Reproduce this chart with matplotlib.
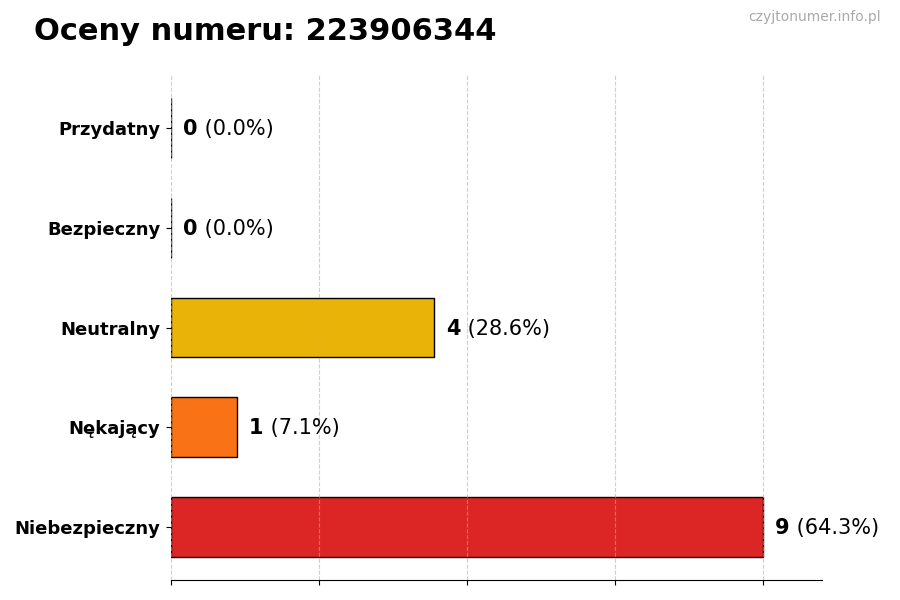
import numpy as np
import matplotlib
matplotlib.use("Agg")
import matplotlib.pyplot as plt

# data (bottom to top in chart order)
categories = ["Niebezpieczny", "Nękający", "Neutralny", "Bezpieczny", "Przydatny"]
counts = [9, 1, 4, 0, 0]
colors = ["#dc2626", "#f97316", "#eab308", "#16a34a", "#2563eb"]
number = "223906344"

total = sum(counts)
max_val = max(counts)

fig, ax = plt.subplots(figsize=(9, 6), dpi=100)
fig.subplots_adjust(left=0.19, right=0.9133, top=0.875, bottom=0.0333)

y = np.arange(len(categories))
ax.barh(y, counts, height=0.6, color=colors, edgecolor="black", linewidth=1)

ax.set_yticks(y)
ax.set_yticklabels(categories, fontsize=13, fontweight="bold")
ax.tick_params(axis="y", pad=4)
ax.set_xlim(0, max_val * 1.1)
ax.set_xticks(np.linspace(0, max_val, 5))
ax.set_xticklabels([])

ax.grid(axis="x", linestyle="--", color="#b0b0b0", linewidth=0.8, alpha=0.6)
ax.set_axisbelow(False)
for s in ["top", "right", "left"]:
    ax.spines[s].set_visible(False)

off = max_val * 0.021
for yi, c in zip(y, counts):
    pct = c / total * 100
    t = ax.text(c + off, yi - 0.01, str(c), fontsize=15, fontweight="bold", va="center")
    ax.annotate(f" ({pct:.1f}%)", xy=(1, 0.5), xycoords=t, va="center",
                fontsize=15)

fig.text(0.038, 0.948, f"Oceny numeru: {number}", fontsize=22,
         fontweight="bold", va="center")
fig.text(0.979, 0.971, "czyjtonumer.info.pl", fontsize=10, color="#aaaaaa",
         ha="right", va="center")

fig.savefig("out.png")
